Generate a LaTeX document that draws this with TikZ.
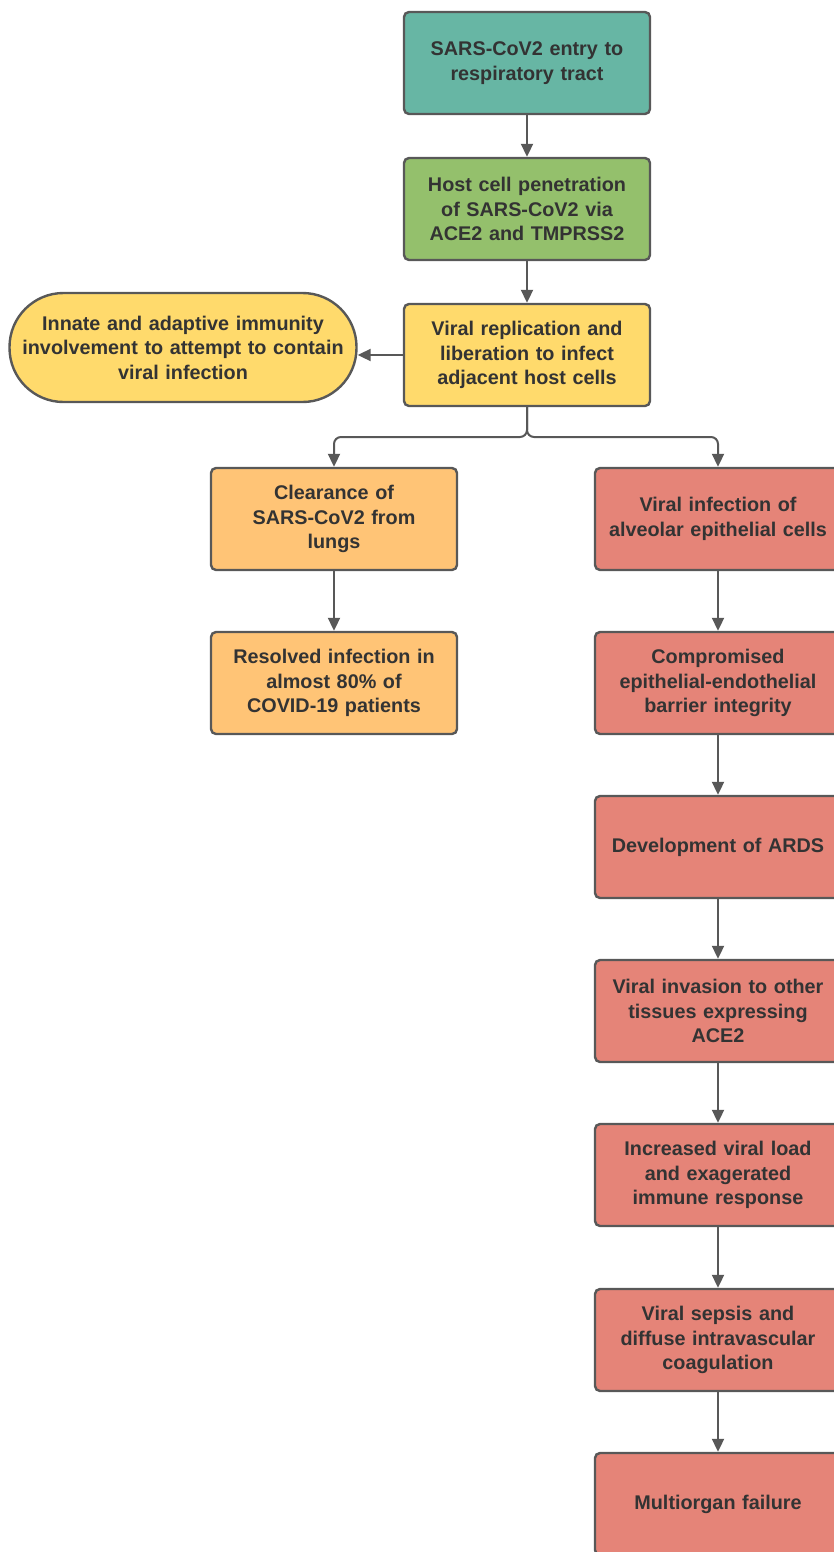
\documentclass[tikz,border=0pt]{standalone}
\usepackage{fontspec}
\setmainfont{Liberation Sans}
\usetikzlibrary{arrows.meta,positioning}
\definecolor{cteal}{RGB}{103,182,164}
\definecolor{cgreen}{RGB}{148,192,108}
\definecolor{cyellow}{RGB}{255,218,108}
\definecolor{corange}{RGB}{255,196,118}
\definecolor{cred}{RGB}{229,132,120}
\definecolor{cline}{RGB}{88,88,88}
\definecolor{ctext}{RGB}{51,51,51}
\tikzset{
  box/.style={draw=cline, line width=2.4pt, rounded corners=5pt, minimum width=246pt, minimum height=102pt,
    inner sep=0pt, align=center, text width=242pt, font=\fontsize{19.8}{24.5}\selectfont\bfseries, text=ctext},
  oval/.style={draw=cline, line width=2.4pt, rounded corners=54pt, minimum width=347pt, minimum height=109pt,
    inner sep=0pt, align=center, text width=345pt, font=\fontsize{19.8}{24.5}\selectfont\bfseries, text=ctext, fill=cyellow},
  conn/.style={draw=cline, line width=2pt, -{Triangle[length=13pt,width=12pt]}},
}
\begin{document}
\begin{tikzpicture}[x=1pt,y=-1pt]
\useasboundingbox (0,0) rectangle (833,1552);
\node[box, fill=cteal] (b1) at (527,63) {SARS-CoV2 entry to\\respiratory tract};
\node[box, fill=cgreen] (b2) at (527,209) {Host cell penetration\\of SARS-CoV2 via\\ACE2 and TMPRSS2};
\node[box, fill=cyellow] (b3) at (527,355) {Viral replication and\\liberation to infect\\adjacent host cells};
\node[oval] (im) at (183,347.5) {Innate and adaptive immunity\\involvement to attempt to contain\\viral infection};
\node[box, fill=corange] (o1) at (334,519) {Clearance of\\SARS-CoV2 from\\lungs};
\node[box, fill=corange] (o2) at (334,683) {Resolved infection in\\almost 80\% of\\COVID-19 patients};
\node[box, fill=cred] (r1) at (718,519) {Viral infection of\\alveolar epithelial cells};
\node[box, fill=cred] (r2) at (718,683) {Compromised\\epithelial-endothelial\\barrier integrity};
\node[box, fill=cred] (r3) at (718,847) {Development of ARDS};
\node[box, fill=cred] (r4) at (718,1011) {Viral invasion to other\\tissues expressing\\ACE2};
\node[box, fill=cred] (r5) at (718,1175) {Increased viral load\\and exagerated\\immune response};
\node[box, fill=cred] (r6) at (718,1340) {Viral sepsis and\\diffuse intravascular\\coagulation};
\node[box, fill=cred] (r7) at (718,1504) {Multiorgan failure};
\coordinate (j) at (527,437);
\draw[conn] (b1) -- (b2);
\draw[conn] (b2) -- (b3);
\draw[conn] (b3.west) -- (b3.west -| im.east);
\draw[conn, rounded corners=7pt] (b3.south) -- (j) -| (o1.north);
\draw[conn, rounded corners=7pt] (b3.south) -- (j) -| (r1.north);
\draw[conn] (o1) -- (o2);
\draw[conn] (r1) -- (r2);
\draw[conn] (r2) -- (r3);
\draw[conn] (r3) -- (r4);
\draw[conn] (r4) -- (r5);
\draw[conn] (r5) -- (r6);
\draw[conn] (r6) -- (r7);
\end{tikzpicture}
\end{document}
